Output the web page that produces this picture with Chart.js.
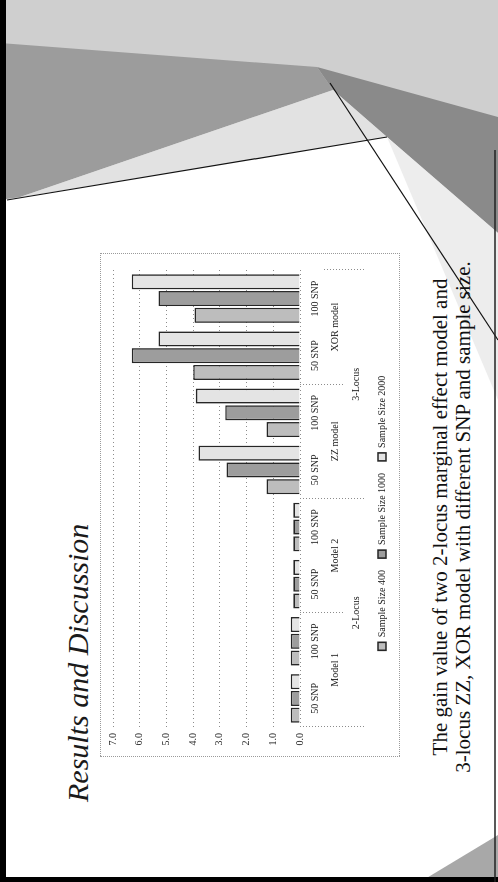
<!DOCTYPE html>
<html>
<head>
<meta charset="utf-8">
<script src="https://cdn.jsdelivr.net/npm/chart.js@4.4.1/dist/chart.umd.min.js"></script>
<style>
  html, body { margin: 0; padding: 0; background: #fff; }
  #page { position: relative; width: 498px; height: 882px; overflow: hidden; background: #fff; }
  /* the slide is laid out landscape and turned a quarter turn to the left */
  #slide { position: absolute; left: 0; top: 0; width: 882px; height: 498px;
           transform-origin: 0 0; transform: translate(0, 882px) rotate(-90deg); }
  #deco { position: absolute; left: 0; top: 0; }
  #title { position: absolute; left: 80px; top: 61px; font: italic 30px "Liberation Serif", serif;
           color: #1a1a1a; white-space: nowrap; }
  #caption { position: absolute; left: 80px; width: 570px; top: 429px; text-align: center;
             font: 21px/23px "Liberation Serif", serif; color: #111; white-space: nowrap; }
  #box { position: absolute; left: 125px; top: 100px; width: 504px; height: 300px;
         border: 1px dotted #9a9a9a; box-sizing: border-box; }
  #chart { position: absolute; left: 0; top: 0; }
</style>
</head>
<body>
<div id="page">
  <div id="slide">
    <svg id="deco" width="882" height="498">
      <polygon points="882,0 882,498 642,498 745,387 685,20 682,0" fill="#cfcfcf"/>
      <polygon points="839,0 815,317 792,333 685,20 682,0" fill="#9c9c9c"/>
      <polygon points="815,317 765,498 649,498 745,387 792,333" fill="#8a8a8a"/>
      <polygon points="685,20 792,333 745,387" fill="#e2e2e2"/>
      <polygon points="745,387 649,498 482,498" fill="#ededed"/>
      <polygon points="0,420 47,498 0,498" fill="#a8a8a8"/>
      <line x1="682" y1="7" x2="745" y2="387" stroke="#111" stroke-width="1.2"/>
      <line x1="799" y1="330" x2="542" y2="498" stroke="#111" stroke-width="1.2"/>
      <rect x="0" y="0" width="882" height="6" fill="#000"/>
      <rect x="0" y="0" width="5" height="498" fill="#000"/>
      <line x1="0" y1="495" x2="732" y2="495" stroke="#222" stroke-width="1.5"/>
    </svg>
    <div id="title">Results and Discussion</div>
    <div id="box"><canvas id="chart" width="502" height="298"></canvas></div>
    <div id="caption">The gain value of two 2-locus marginal effect model and<br>3-locus ZZ, XOR model with different SNP and sample size.</div>
  </div>
</div>
<script>
const snpLabels = ["50 SNP", "100 SNP", "50 SNP", "100 SNP", "50 SNP", "100 SNP", "50 SNP", "100 SNP"];
const modelLabels = ["Model 1", "Model 2", "ZZ model", "XOR model"];
const locusLabels = ["2-Locus", "3-Locus"];
const seriesNames = ["Sample Size 400", "Sample Size 1000", "Sample Size 2000"];
const size400 = [0.35, 0.35, 0.25, 0.25, 1.25, 1.25, 4.0, 3.95];
const size1000 = [0.35, 0.35, 0.25, 0.25, 2.75, 2.8, 6.3, 5.3];
const size2000 = [0.35, 0.35, 0.25, 0.25, 3.8, 3.9, 5.3, 6.3];
const yMax = 7;

const serif = "'Liberation Serif', serif";
const dotted = "#8c8c8c";

let bars = (label, values, fill) => ({
    label: label,
    data: values,
    xAxisID: "x",
    backgroundColor: fill,
    borderColor: "#262626",
    borderWidth: 1.6,
    barPercentage: 0.9,
    categoryPercentage: 0.88
});

// a lower label row of the grouped category axis
let groupAxis = (labels, h) => ({
    type: "category",
    labels: labels,
    position: "bottom",
    offset: true,
    grid: {drawOnChartArea: false, tickLength: h, color: dotted, tickBorderDash: [1, 2]},
    border: {display: false},
    ticks: {font: {family: serif, size: 10}, color: "#222", padding: 5 - h, maxRotation: 0, autoSkip: false},
    afterFit: s => { s.height = h }
});

new Chart(document.getElementById("chart"), {
    type: "bar",
    data: {
        labels: snpLabels,
        datasets: [
            bars(seriesNames[0], size400, "#bdbdbd"),
            bars(seriesNames[1], size1000, "#9d9d9d"),
            bars(seriesNames[2], size2000, "#e4e4e4")
        ]
    },
    options: {
        responsive: false,
        animation: false,
        layout: {padding: {left: 0, right: 16, top: 12, bottom: 2}},
        plugins: {
            legend: {
                position: "bottom",
                labels: {boxWidth: 8, boxHeight: 8, padding: 12, color: "#222",
                         font: {family: serif, size: 10}}
            },
            tooltip: {enabled: false}
        },
        scales: {
            y: {
                min: 0, max: yMax,
                ticks: {stepSize: 1, callback: v => v.toFixed(1), color: "#222",
                        font: {family: serif, size: 10}, padding: 6},
                grid: {color: dotted, drawTicks: false},
                border: {display: false, dash: [1, 3]},
                afterFit: s => { s.width = 29 }
            },
            x: {
                position: "bottom",
                grid: {drawOnChartArea: false, tickLength: 24, tickBorderDash: [1, 2],
                       color: c => c.index % 2 === 0 ? dotted : "rgba(0,0,0,0)"},
                border: {display: false},
                ticks: {font: {family: serif, size: 10}, color: "#222", padding: -15, maxRotation: 0, autoSkip: false},
                afterFit: s => { s.height = 24 }
            },
            x2: groupAxis(modelLabels, 21),
            x3: groupAxis(locusLabels, 20)
        }
    }
});
</script>
</body>
</html>
